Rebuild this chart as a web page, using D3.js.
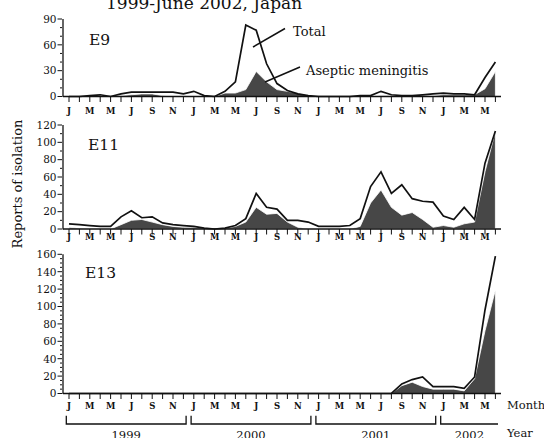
<!DOCTYPE html>
<html>
<head>
<meta charset="utf-8">
<script src="https://cdn.jsdelivr.net/npm/d3@7"></script>
<style>
body { margin: 0; background: #fff; }
svg { display: block; }
text { font-family: "DejaVu Serif", serif; fill: #111; }
</style>
</head>
<body>
<svg width="544" height="438"></svg>
<script>
// monthly reports, Jan 1999 .. Jun 2002
const monthInitials = ["J","F","M","A","M","J","J","A","S","O","N","D"];
const years = ["1999", "2000", "2001", "2002"];

const e9Total = [0,0,1,2,0,3,5,5,5,5,5,3,6,1,0,6,17,83,77,38,15,7,3,1,0,0,0,0,1,1,6,2,1,1,2,3,4,3,3,2,22,40];
const e9Asep  = [0,0,0,0,0,1,2,3,3,1,0,0,0,0,0,4,4,8,29,17,8,6,4,1,0,0,0,0,0,0,1,1,0,0,1,1,2,2,2,2,9,29];

const e11Total = [6,5,4,3,3,14,21,13,14,7,5,4,3,1,0,1,4,12,41,25,23,10,10,8,3,3,3,4,12,49,66,41,51,35,32,31,15,11,25,11,76,113];
const e11Asep  = [2,1,0,0,0,5,10,11,8,5,3,2,2,1,0,1,3,8,25,17,18,8,2,0,0,0,0,0,3,30,45,25,16,19,11,2,4,2,6,8,66,113];

const e13Total = [0,0,0,0,0,0,0,0,0,0,0,0,0,0,0,0,0,0,0,0,0,0,0,0,0,0,0,0,0,0,0,0,11,16,19,8,8,8,6,19,96,158];
const e13Asep  = [0,0,0,0,0,0,0,0,0,0,0,0,0,0,0,0,0,0,0,0,0,0,0,0,0,0,0,0,0,0,0,0,9,13,8,5,5,5,3,17,72,119];

const panels = [
  {name: "E9",  total: e9Total,  asep: e9Asep,  max: 90,  major: 30, minor: 10, bottom: 96.5, top: 19,    nameX: 89, nameY: 45,  labY: 113.5},
  {name: "E11", total: e11Total, asep: e11Asep, max: 120, major: 20, minor: 10, bottom: 229,  top: 125,   nameX: 88, nameY: 150, labY: 240},
  {name: "E13", total: e13Total, asep: e13Asep, max: 160, major: 20, minor: 5,  bottom: 393.5, top: 254.3, nameX: 85, nameY: 278, labY: 409}
];

const svg = d3.select('svg');
const axisX = 63;
const x = d3.scaleLinear().domain([0, 41]).range([69, 495.4]);
const nMonths = e9Total.length;

// title (cut off at the top in the original)
svg.append('text')
  .attr('x', 106).attr('y', 8.5)
  .attr('font-size', 17)
  .text('1999-June 2002, Japan');

svg.append('text')
  .attr('transform', 'translate(22,184) rotate(-90)')
  .attr('text-anchor', 'middle')
  .attr('font-size', 13)
  .text('Reports of isolation');

panels.forEach(p => {
  const y = d3.scaleLinear().domain([0, p.max]).range([p.bottom, p.top]);
  const g = svg.append('g');

  const area = d3.area()
    .x((d, i) => x(i))
    .y0(y(0))
    .y1(d => y(d));
  const line = d3.line()
    .x((d, i) => x(i))
    .y(d => y(d));

  g.append('path')
    .attr('d', area(p.asep))
    .attr('fill', '#474747')
    .attr('stroke', '#fff')
    .attr('stroke-width', 0.8);

  g.append('path')
    .attr('d', line(p.total))
    .attr('fill', 'none')
    .attr('stroke', '#111')
    .attr('stroke-width', 1.7);

  // x axis
  g.append('line')
    .attr('x1', axisX).attr('x2', 501)
    .attr('y1', y(0)).attr('y2', y(0))
    .attr('stroke', '#111').attr('stroke-width', 1.3);
  g.selectAll('line.xt')
    .data(d3.range(nMonths))
    .enter().append('line')
    .attr('class', 'xt')
    .attr('x1', d => x(d)).attr('x2', d => x(d))
    .attr('y1', y(0)).attr('y2', y(0) + 5.5)
    .attr('stroke', '#111').attr('stroke-width', 1);
  g.selectAll('text.xl')
    .data(d3.range(0, nMonths, 2))
    .enter().append('text')
    .attr('class', 'xl')
    .attr('x', d => x(d))
    .attr('y', p.labY)
    .attr('text-anchor', 'middle')
    .attr('font-size', 8.5)
    .attr('font-weight', 'bold')
    .text(d => monthInitials[d % 12]);

  // y axis
  g.append('line')
    .attr('x1', axisX).attr('x2', axisX)
    .attr('y1', y(0) + 0.6).attr('y2', y(p.max))
    .attr('stroke', '#111').attr('stroke-width', 1.3);
  g.selectAll('line.ym')
    .data(d3.range(0, p.max + 0.1, p.minor))
    .enter().append('line')
    .attr('class', 'ym')
    .attr('x1', axisX - 1).attr('x2', d => axisX - (d % p.major === 0 ? 5.5 : 3))
    .attr('y1', d => y(d)).attr('y2', d => y(d))
    .attr('stroke', '#111').attr('stroke-width', 1);
  g.selectAll('text.yl')
    .data(d3.range(0, p.max + 0.1, p.major))
    .enter().append('text')
    .attr('class', 'yl')
    .attr('x', axisX - 6.5)
    .attr('y', d => y(d) + 3.8)
    .attr('text-anchor', 'end')
    .attr('font-size', 10.5)
    .text(d => d);

  g.append('text')
    .attr('x', p.nameX).attr('y', p.nameY)
    .attr('font-size', 15.5)
    .text(p.name);
});

// annotations, first panel
svg.append('line')
  .attr('x1', 285).attr('y1', 28.5).attr('x2', 253).attr('y2', 47)
  .attr('stroke', '#111').attr('stroke-width', 1.5);
svg.append('text')
  .attr('x', 293).attr('y', 35.5)
  .attr('font-size', 13)
  .text('Total');
svg.append('line')
  .attr('x1', 300).attr('y1', 67).attr('x2', 265).attr('y2', 82)
  .attr('stroke', '#111').attr('stroke-width', 1.5);
svg.append('text')
  .attr('x', 306).attr('y', 75)
  .attr('font-size', 13)
  .text('Aseptic meningitis');

// year brackets below the last panel
const yb = 424, ybTop = 415.7;
years.forEach((yr, k) => {
  const a = x(12 * k - 0.5) + 2.5;
  const b = Math.min(x(12 * k + 11.5) - 2.5, 498);
  const pts = k < years.length - 1
    ? [[a, ybTop], [a, yb], [b, yb], [b, ybTop]]
    : [[a, ybTop], [a, yb], [b, yb]];
  svg.append('path')
    .attr('d', d3.line()(pts))
    .attr('fill', 'none')
    .attr('stroke', '#111')
    .attr('stroke-width', 1.3);
  svg.append('text')
    .attr('x', (a + b) / 2).attr('y', 438.5)
    .attr('text-anchor', 'middle')
    .attr('font-size', 11.5)
    .text(yr);
});

svg.append('text').attr('x', 507).attr('y', 409).attr('font-size', 11.5).text('Month');
svg.append('text').attr('x', 507).attr('y', 436.5).attr('font-size', 11.5).text('Year');
</script>
</body>
</html>
